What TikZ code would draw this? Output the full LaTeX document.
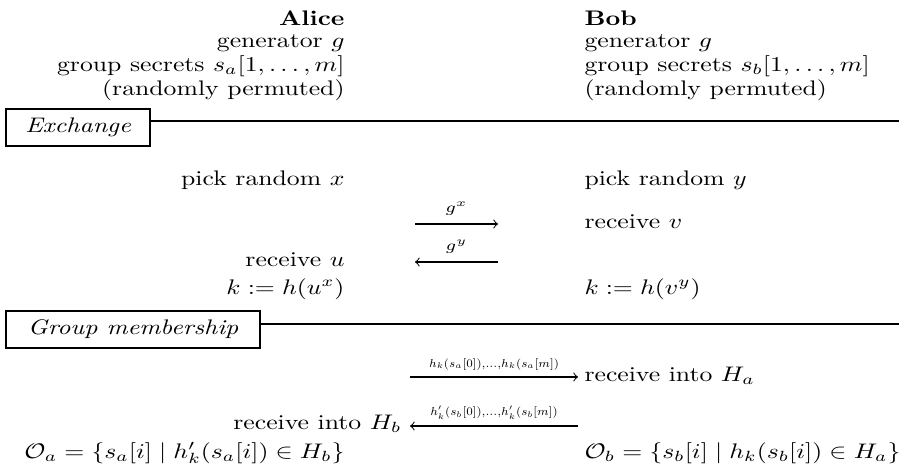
\documentclass[tikz,border=0pt]{standalone}
\usepackage{graphicx}
\usetikzlibrary{positioning}
\newcommand{\lbl}[1]{\scalebox{1}[0.82]{#1}}
\newcommand{\msglbl}[1]{\scalebox{0.64}[0.64]{$\scriptstyle #1$}}
\begin{document}
\begin{tikzpicture}[x=0.389pt, y=-0.389pt,
    alice/.style={anchor=base east, inner sep=0pt},
    bob/.style={anchor=base west, inner sep=0pt},
    phase/.style={draw, line width=0.8pt, inner xsep=7.5pt, inner ysep=3.5pt, anchor=north west},
    rule/.style={line width=0.8pt},
    msg/.style={->, line width=0.4pt}]
    \useasboundingbox (0,0) rectangle (899,470);

    % Parties
    \node[alice] (alice) at (345,25) {\lbl{\textbf{Alice}}};
    \node[alice] (agen) at (345,47) {\lbl{generator $g$}};
    \node[alice] (asec) at (345,71) {\lbl{group secrets $s_a[1,\dots,m]$}};
    \node[alice] (aperm) at (345,95) {\lbl{(randomly permuted)}};
    \node[bob] (bob) at (584,25) {\lbl{\textbf{Bob}}};
    \node[bob] (bgen) at (584,47) {\lbl{generator $g$}};
    \node[bob] (bsec) at (584,71) {\lbl{group secrets $s_b[1,\dots,m]$}};
    \node[bob] (bperm) at (584,95) {\lbl{(randomly permuted)}};

    % Exchange
    \node[phase] (exch) at (5,108) {\lbl{\emph{Exchange}}};
    \coordinate (exend) at (899,121);
    \draw[rule] (exch.east |- exend) -- (exend);

    \node[alice] (apick) at (345,185) {\lbl{pick random $x$}};
    \node[bob] (bpick) at (584,185) {\lbl{pick random $y$}};
    \coordinate (gxs) at (415,224);
    \coordinate (gxe) at (498,224);
    \draw[msg] (gxs) -- (gxe) node[midway, above=1pt, inner sep=2pt] {\lbl{$\scriptstyle g^x$}};
    \node[bob] (brecv) at (584,228) {\lbl{receive $v$}};
    \node[alice] (arecv) at (345,266) {\lbl{receive $u$}};
    \coordinate (gys) at (498,262);
    \coordinate (gye) at (415,262);
    \draw[msg] (gys) -- (gye) node[midway, above=1pt, inner sep=2pt] {\lbl{$\scriptstyle g^y$}};
    \node[alice] (akey) at (345,294) {\lbl{$k := h(u^x)$}};
    \node[bob] (bkey) at (584,294) {\lbl{$k := h(v^y)$}};

    % Group membership
    \node[phase, inner xsep=8.5pt] (grp) at (5,310) {\lbl{\emph{Group membership}}};
    \coordinate (grpend) at (899,324);
    \draw[rule] (grp.east |- grpend) -- (grpend);

    \coordinate (has) at (410,377);
    \coordinate (hae) at (578,377);
    \draw[msg] (has) -- (hae) node[midway, above=1pt, inner sep=1.5pt] {\msglbl{h_k(s_a[0]),\dots,h_k(s_a[m])}};
    \node[bob] (bha) at (584,381) {\lbl{receive into $H_a$}};
    \coordinate (hbs) at (578,426);
    \coordinate (hbe) at (410,426);
    \draw[msg] (hbs) -- (hbe) node[midway, above=1pt, inner sep=1.5pt] {\msglbl{h'_k(s_b[0]),\dots,h'_k(s_b[m])}};
    \node[alice] (ahb) at (402,429) {\lbl{receive into $H_b$}};
    \node[alice] (aset) at (345,458) {\lbl{$\mathcal{O}_a = \{s_a[i] \mid h'_k(s_a[i]) \in H_b\}$}};
    \node[bob] (bset) at (584,458) {\lbl{$\mathcal{O}_b = \{s_b[i] \mid h_k(s_b[i]) \in H_a\}$}};
\end{tikzpicture}
\end{document}
